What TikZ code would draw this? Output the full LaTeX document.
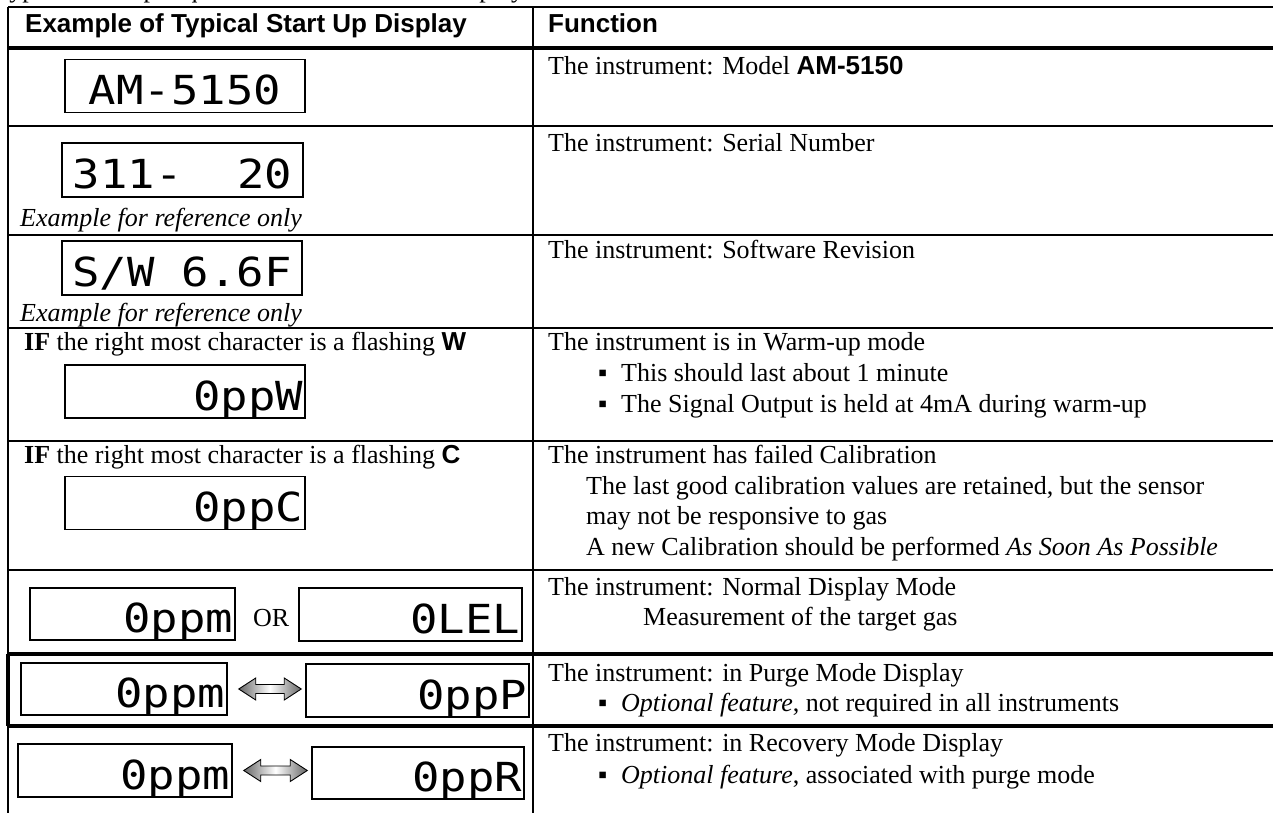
\documentclass[tikz,border=0pt]{standalone}
\usepackage{fontspec}
\setmainfont{Liberation Serif}
\newfontfamily\hdfont{Liberation Sans}
\newfontfamily\lcdfont[FakeStretch=1.14]{DejaVu Sans Mono}
\usetikzlibrary{calc}

\newcommand\bodysize{\fontsize{26}{30}\selectfont}
\newcommand\lcdsize{\fontsize{40}{40}\selectfont}
\newcommand\lcdsp{\hspace{27.4pt}}
\newcommand\bulletmark{\makebox[23pt][l]{▪}}

% shaded double arrow between two displays
\newcommand\swaparrow[2]{%
  \coordinate (#1-tip) at ($(#1.east)+(11,0)$);
  \coordinate (#2-tip) at ($(#2.west |- #1.east)+(-4,0)$);
  \path[modearrow] (#1-tip) -- ++(17,-11) -- ++(0,6.5) -- ($(#2-tip)+(-17,-4.5)$)
    -- ++(0,-6.5) -- (#2-tip) -- ++(-17,11) -- ++(0,-6.5) -- ($(#1-tip)+(17,4.5)$)
    -- ++(0,6.5) -- cycle;}

\begin{document}
\begin{tikzpicture}
[
  x=1pt, y=-1pt,
  every node/.style={font=\bodysize},
  fn/.style={anchor=base west, inner sep=0pt},
  lcd/.style={draw, line width=1.5pt, fill=white, font=\lcdfont\lcdsize,
    inner xsep=2pt, inner ysep=0pt, text height=37pt, text depth=0pt},
  rule/.style={line width=1.8pt},
  heavyrule/.style={line width=3.3pt},
  modearrow/.style={draw=black, line width=0.9pt, left color=black!60,
    right color=black!60, middle color=white}
]
\useasboundingbox (0,0) rectangle (1273,813);
\clip (0,0) rectangle (1273,813);

% line above the table, cut off by the page edge
\node[fn] (intro) at (-5,-2) {Typical start up sequence of the instrument displays.};

% table rules
\draw[rule] (8,7) -- (1273,7);
\draw[heavyrule] (8,48) -- (1273,48);
\foreach \row in {126,235,328,441,570}
  \draw[rule] (8,\row) -- (1273,\row);
\draw[heavyrule] (8,654) -- (1273,654) (8,726) -- (1273,726);
\draw[rule] (8,7) -- (8,813) (533,7) -- (533,813);
\draw[heavyrule] (8,654) -- (8,726);

% header
\node[fn, font=\bodysize\hdfont\bfseries] (colshow) at (25,33) {Example of Typical Start Up Display};
\node[fn, font=\bodysize\hdfont\bfseries] (colfunc) at (548,33) {Function};

% model
\node[lcd, text width=236pt, minimum height=53pt, align=center] (model) at (185,86) {AM-5150};
\node[fn] (fmodel) at (548,75) {The instrument: Model {\hdfont\bfseries AM-5150}};

% serial number
\node[lcd, text width=237pt, minimum height=54pt, align=center] (serial) at (182.5,170) {311-\lcdsp\lcdsp 20};
\node[fn] (exserial) at (20,226) {\itshape Example for reference only};
\node[fn] (fserial) at (548,152) {The instrument: Serial Number};

% software
\node[lcd, text width=236pt, minimum height=54pt, align=center] (soft) at (182,268) {S/W\lcdsp 6.6F};
\node[fn] (exsoft) at (20,321) {\itshape Example for reference only};
\node[fn] (fsoft) at (548,258) {The instrument: Software Revision};

% warm-up
\node[fn] (ifwarm) at (24,350) {\textbf{IF} the right most character is a flashing {\hdfont\bfseries W}};
\node[lcd, text width=236pt, minimum height=53pt, align=right] (warm) at (185,391.5) {0ppW};
\node[fn] (fwarm) at (548,350) {The instrument is in Warm-up mode};
\node[fn] (fwarm1) at (598,381) {\bulletmark This should last about 1 minute};
\node[fn] (fwarm2) at (598,412) {\bulletmark The Signal Output is held at 4mA during warm-up};

% failed calibration
\node[fn] (ifcal) at (24,463) {\textbf{IF} the right most character is a flashing {\hdfont\bfseries C}};
\node[lcd, text width=236pt, minimum height=53pt, align=right] (cal) at (185,503) {0ppC};
\node[fn] (fcal) at (548,463) {The instrument has failed Calibration};
\node[fn] (fcal1) at (586,494) {The last good calibration values are retained, but the sensor};
\node[fn] (fcal2) at (586,524) {may not be responsive to gas};
\node[fn] (fcal3) at (586,555) {A new Calibration should be performed \textit{As Soon As Possible}};

% normal display
\node[lcd, text width=201pt, minimum height=52pt, align=right] (normppm) at (132.5,614) {0ppm};
\node[fn] (or) at (253,626) {OR};
\node[lcd, text width=219pt, minimum height=53pt, align=right] (normlel) at (410.5,614.5) {0LEL};
\node[fn] (fnorm) at (548,595) {The instrument: Normal Display Mode};
\node[fn] (fnorm1) at (643,625) {Measurement of the target gas};

% purge
\node[lcd, text width=202pt, minimum height=52pt, align=right] (purgeppm) at (124,689) {0ppm};
\node[lcd, text width=219pt, minimum height=53pt, align=right] (purgeppp) at (417.5,690.5) {0ppP};
\swaparrow{purgeppm}{purgeppp}
\node[fn] (fpurge) at (548,681) {The instrument: in Purge Mode Display};
\node[fn] (fpurge1) at (598,711) {\bulletmark\textit{Optional feature}, not required in all instruments};

% recovery
\node[lcd, text width=210pt, minimum height=53pt, align=right] (recppm) at (125,770.5) {0ppm};
\node[lcd, text width=208pt, minimum height=52pt, align=right] (recppr) at (418,773) {0ppR};
\swaparrow{recppm}{recppr}
\node[fn] (frec) at (548,751) {The instrument: in Recovery Mode Display};
\node[fn] (frec1) at (598,783) {\bulletmark\textit{Optional feature}, associated with purge mode};
\end{tikzpicture}
\end{document}
